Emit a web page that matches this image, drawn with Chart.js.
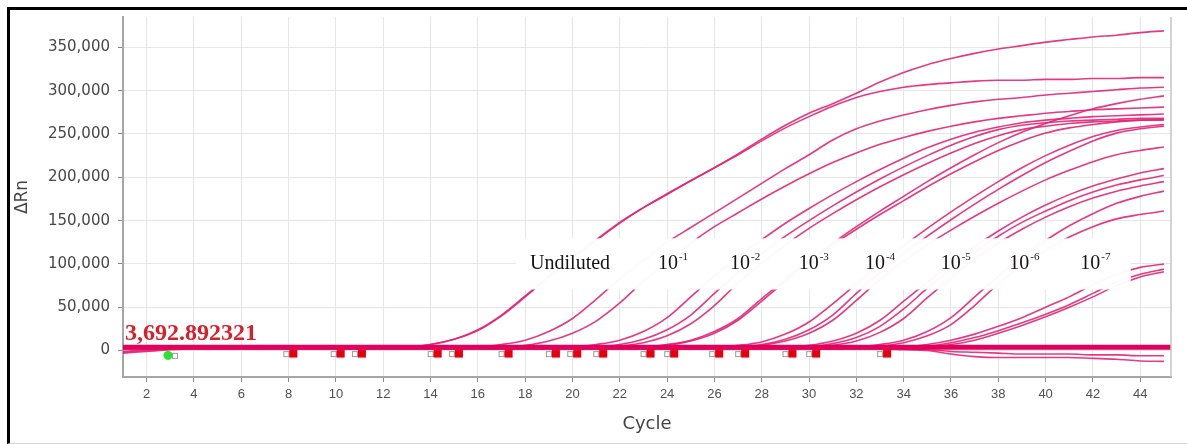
<!DOCTYPE html>
<html>
<head>
<meta charset="utf-8">
<script src="https://cdn.jsdelivr.net/npm/chart.js@4.4.1/dist/chart.umd.min.js"></script>
<style>
    html, body { margin: 0; padding: 0; background: #fff; }
    #frame { position: absolute; left: 7px; top: 7px; width: 1180px; height: 433px;
             border-left: 3px solid #000; border-top: 3px solid #000; border-bottom: 1px solid #d6d6d6; }
    #wrap { position: absolute; left: 0; top: 0; width: 1187px; height: 444px; }
</style>
</head>
<body>
<div id="frame"></div>
<div id="wrap"><canvas id="chart" width="1187" height="444"></canvas></div>
<script>
// Cycles and axis ticks
const cycles = [1,2,3,4,5,6,7,8,9,10,11,12,13,14,15,16,17,18,19,20,21,22,23,24,25,26,27,28,29,30,31,32,33,34,35,36,37,38,39,40,41,42,43,44,45];
const cycleTicks = [2,4,6,8,10,12,14,16,18,20,22,24,26,28,30,32,34,36,38,40,42,44];
const rnTicks = [0,50000,100000,150000,200000,250000,300000,350000];
const cycleRange = [1, 45.3];
const rnRange = [-30500, 385000];

// Threshold
const threshold = 3692.892321;

// Amplification curves, dRn in thousands per cycle
const undilutedA = [-1,1,3,3,3,3,3,3,3,3, 3,3,4,7,13,23,40,62,85,107, 127,147,165,180,196,211,227,244,260,274, 285,297,310,321,330,337,343,348,352,356, 359,362,364,367,369];
const undilutedB = [2,3,3,3,3,3,3,3,3,3, 3,3,4,7,13,24,41,63,86,108, 128,148,165,181,196,211,226,242,257,270, 282,292,299,304,307,309,311,312,312,313, 313,314,314,315,315];
const dil1A = [3,3,3,3,3,3,3,3,3,3, 3,3,3,3,3,4,7,12,22,37, 59,83,104,125,142,159,176,193,210,226, 243,256,265,272,278,283,287,290,292,295, 297,299,301,303,304];
const dil1B = [-2,0,2,3,3,3,3,3,3,3, 3,3,3,3,3,3,4,6,11,20, 34,55,80,102,124,143,159,175,190,204, 217,228,238,246,253,259,264,268,271,274, 276,278,279,280,281];
const dil2A = [3,3,3,3,3,3,3,3,3,3, 3,3,3,3,3,3,3,3,3,4, 7,12,22,38,62,86,108,128,147,164, 180,195,209,222,234,244,252,258,263,266, 268,270,271,272,273];
const dil2B = [3,3,3,3,3,3,3,3,3,3, 3,3,3,3,3,3,3,3,3,3, 4,7,13,24,41,66,90,112,132,150, 167,183,198,212,225,237,247,255,260,263, 265,266,267,268,268];
const dil2C = [3,3,3,3,3,3,3,3,3,3, 3,3,3,3,3,3,3,3,3,3, 3,5,9,17,31,52,78,101,122,141, 158,174,189,203,216,228,239,248,255,259, 262,264,265,266,266];
const dil3A = [3,3,3,3,3,3,3,3,3,3, 3,3,3,3,3,3,3,3,3,3, 3,3,4,7,12,22,37,60,82,104, 124,143,161,178,195,211,226,240,252,262, 271,279,285,290,294];
const dil3B = [3,3,3,3,3,3,3,3,3,3, 3,3,3,3,3,3,3,3,3,3, 3,3,4,6,11,20,35,57,80,102, 122,140,157,173,189,204,218,231,242,251, 257,261,264,266,267];
const dil4A = [3,3,3,3,3,3,3,3,3,3, 3,3,3,3,3,3,3,3,3,3, 3,3,3,3,3,4,6,10,19,33, 54,77,100,121,141,160,178,195,211,225, 237,247,254,258,261];
const dil4B = [3,3,3,3,3,3,3,3,3,3, 3,3,3,3,3,3,3,3,3,3, 3,3,3,3,3,3,4,7,13,24, 41,66,90,112,132,151,169,186,202,217, 230,242,251,256,259];
const dil4C = [3,3,3,3,3,3,3,3,3,3, 3,3,3,3,3,3,3,3,3,3, 3,3,3,3,3,3,3,6,11,20, 35,58,82,103,122,139,155,170,184,197, 208,218,226,231,235];
const dil5A = [3,3,3,3,3,3,3,3,3,3, 3,3,3,3,3,3,3,3,3,3, 3,3,3,3,3,3,3,3,4,6, 11,20,35,57,79,100,120,138,154,168, 180,190,198,205,210];
const dil5B = [3,3,3,3,3,3,3,3,3,3, 3,3,3,3,3,3,3,3,3,3, 3,3,3,3,3,3,3,3,3,4, 8,15,28,48,72,94,114,132,148,161, 173,183,191,197,202];
const dil5C = [3,3,3,3,3,3,3,3,3,3, 3,3,3,3,3,3,3,3,3,3, 3,3,3,3,3,3,3,3,3,4, 6,11,21,37,61,84,105,124,140,154, 166,176,184,190,195];
const dil6A = [3,3,3,3,3,3,3,3,3,3, 3,3,3,3,3,3,3,3,3,3, 3,3,3,3,3,3,3,3,3,3, 3,4,7,12,22,38,62,86,108,127, 144,158,170,178,184];
const dil6B = [3,3,3,3,3,3,3,3,3,3, 3,3,3,3,3,3,3,3,3,3, 3,3,3,3,3,3,3,3,3,3, 3,3,5,9,17,30,52,77,98,116, 131,143,152,157,161];
const dil7A = [3,3,3,3,3,3,3,3,3,3, 3,3,3,3,3,3,3,3,3,3, 3,3,3,3,3,3,3,3,3,3, 3,3,3,4,7,12,19,28,38,50, 62,76,88,96,100];
const dil7B = [3,3,3,3,3,3,3,3,3,3, 3,3,3,3,3,3,3,3,3,3, 3,3,3,3,3,3,3,3,3,3, 3,3,3,3,5,9,15,23,32,42, 53,66,79,88,94];
const dil7C = [3,3,3,3,3,3,3,3,3,3, 3,3,3,3,3,3,3,3,3,3, 3,3,3,3,3,3,3,3,3,3, 3,3,3,3,4,7,12,20,29,39, 50,62,75,85,91];
const ntcA = [-3,-1,1,2,2,2,2,2,2,2, 2,2,2,2,2,2,2,2,2,2, 2,2,2,2,2,2,2,2,2,2, 2,2,2,1,0,-4,-7,-8,-8,-8, -8,-9,-10,-12,-12.5];
const ntcB = [2,2,2,2,2,2,2,2,2,2, 2,2,2,2,2,2,2,2,2,2, 2,2,2,2,2,2,2,2,2,2, 2,2,2,2,1,-1,-2,-3,-4,-4, -4,-5,-5,-6,-6];

const curves = [undilutedA, undilutedB, dil1A, dil1B, dil2A, dil2B, dil2C, dil3A, dil3B,
                dil4A, dil4B, dil4C, dil5A, dil5B, dil5C, dil6A, dil6B, dil7A, dil7B, dil7C, ntcA, ntcB];

// Baseline markers
const markerCycles = [8.2, 10.2, 11.1, 14.3, 15.2, 17.3, 19.3, 20.2, 21.3, 23.3, 24.3, 26.2, 27.3, 29.3, 30.3, 33.3];
const markerLevel = -3500;
const startCycles = [2.9];
const startLevel = -5500;

// Dilution labels
const dilutionBase = ['Undiluted', '10', '10', '10', '10', '10', '10', '10'];
const dilutionExp = ['', '-1', '-2', '-3', '-4', '-5', '-6', '-7'];
const dilutionCycles = [19.9, 24.25, 27.3, 30.2, 33.0, 36.2, 39.1, 42.1];
const dilutionLevel = 94000;
const boxCycles = [17.6, 43.6];
const boxLevels = [70500, 129500];

function markerImage(kind) {
    const c = document.createElement('canvas');
    c.width = 24;
    c.height = 11;
    const g = c.getContext('2d');
    if (kind === 'red') {
        g.fillStyle = '#fff';
        g.strokeStyle = '#9a9a9a';
        g.fillRect(2.5, 3.5, 5, 5);
        g.strokeRect(2.5, 3.5, 5, 5);
        g.fillStyle = '#e6000f';
        g.fillRect(8, 1.5, 8, 8);
    } else {
        g.fillStyle = '#2fe02f';
        g.beginPath();
        g.arc(12, 5.5, 4.5, 0, Math.PI * 2);
        g.fill();
        g.fillStyle = '#fff';
        g.strokeStyle = '#9a9a9a';
        g.fillRect(16.5, 3.5, 5, 5);
        g.strokeRect(16.5, 3.5, 5, 5);
    }
    return c;
}

const overlayPlugin = {
    id: 'overlay',
    afterDatasetsDraw(chart) {
        const { ctx, chartArea, scales: { x, y } } = chart;
        ctx.save();

        // threshold value
        ctx.fillStyle = '#d81f2a';
        ctx.font = 'bold 24px "Liberation Serif"';
        ctx.textAlign = 'left';
        ctx.textBaseline = 'alphabetic';
        const thText = threshold.toLocaleString('en-US', { minimumFractionDigits: 6 });
        ctx.fillText(thText, chartArea.left + 2, y.getPixelForValue(threshold) - 7);

        // dilution label box
        const left = x.getPixelForValue(boxCycles[0]);
        const right = x.getPixelForValue(boxCycles[1]);
        const top = y.getPixelForValue(boxLevels[1]);
        const bottom = y.getPixelForValue(boxLevels[0]);
        ctx.fillStyle = 'rgba(255,255,255,0.97)';
        ctx.fillRect(left, top, right - left, bottom - top);

        ctx.fillStyle = '#141414';
        const baseY = y.getPixelForValue(dilutionLevel);
        dilutionBase.forEach((name, i) => {
            ctx.font = '20px "Liberation Serif"';
            const w1 = ctx.measureText(name).width;
            ctx.font = '11px "Liberation Serif"';
            const w2 = dilutionExp[i] ? ctx.measureText(dilutionExp[i]).width + 1 : 0;
            const cx = x.getPixelForValue(dilutionCycles[i]);
            const sx = cx - (w1 + w2) / 2;
            ctx.font = '20px "Liberation Serif"';
            ctx.fillText(name, sx, baseY);
            if (dilutionExp[i]) {
                ctx.font = '11px "Liberation Serif"';
                ctx.fillText(dilutionExp[i], sx + w1 + 1, baseY - 9);
            }
        });
        ctx.restore();
    },
    afterDraw(chart) {
        const { ctx, chartArea } = chart;
        ctx.save();
        ctx.strokeStyle = '#c4c4c4';
        ctx.lineWidth = 1.5;
        ctx.beginPath();
        ctx.moveTo(chartArea.right, chartArea.top);
        ctx.lineTo(chartArea.right, chartArea.bottom);
        ctx.stroke();
        ctx.restore();
    }
};

const curveSets = curves.map(arr => ({
    data: arr.map(v => v * 1000),
    borderColor: 'rgba(226, 36, 116, 0.9)',
    borderWidth: 1.6,
    pointRadius: 0,
    cubicInterpolationMode: 'monotone',
    order: 3
}));

const thresholdSet = {
    data: cycleRange.map(c => ({ x: c, y: threshold })),
    borderColor: '#e2005c',
    borderWidth: 5,
    pointRadius: 0,
    order: 2
};

const markerSet = {
    data: markerCycles.map(c => ({ x: c, y: markerLevel })),
    showLine: false,
    pointStyle: markerImage('red'),
    pointRadius: 5,
    order: 1
};

const startSet = {
    data: startCycles.map(c => ({ x: c, y: startLevel })),
    showLine: false,
    pointStyle: markerImage('green'),
    pointRadius: 5,
    order: 1
};

new Chart(document.getElementById('chart'), {
    type: 'line',
    data: {
        labels: cycles,
        datasets: [...curveSets, thresholdSet, markerSet, startSet]
    },
    plugins: [overlayPlugin],
    options: {
        responsive: false,
        animation: false,
        layout: { padding: { top: 11, right: 16, left: 0, bottom: 0 } },
        plugins: {
            legend: { display: false },
            tooltip: { enabled: false }
        },
        scales: {
            x: {
                type: 'linear',
                min: cycleRange[0],
                max: cycleRange[1],
                afterBuildTicks: s => { s.ticks = cycleTicks.map(v => ({ value: v })); },
                afterFit: s => { s.height = 67; },
                grid: { color: '#e6e6e6', tickColor: '#8a8a8a', tickLength: 5 },
                border: { color: '#a6a6a6', width: 2 },
                ticks: {
                    color: '#505050',
                    padding: 5,
                    maxRotation: 0,
                    autoSkip: false,
                    font: { family: 'Liberation Sans', size: 13 }
                },
                title: {
                    display: true,
                    text: 'Cycle',
                    color: '#444',
                    font: { family: 'DejaVu Sans', size: 18 },
                    padding: { top: 0, bottom: 9 }
                }
            },
            y: {
                min: rnRange[0],
                max: rnRange[1],
                afterBuildTicks: s => { s.ticks = rnTicks.map(v => ({ value: v })); },
                afterFit: s => { s.width = 123; },
                grid: { color: '#e6e6e6', tickColor: '#8a8a8a', tickLength: 5 },
                border: { color: '#a6a6a6', width: 2 },
                ticks: {
                    color: '#474747',
                    padding: 8,
                    font: { family: 'DejaVu Sans', size: 15 },
                    callback: v => v.toLocaleString('en-US')
                },
                title: {
                    display: true,
                    text: 'ΔRn',
                    color: '#444',
                    font: { family: 'DejaVu Sans', size: 17 },
                    padding: { top: 12, bottom: 0 }
                }
            }
        }
    }
});
</script>
</body>
</html>
